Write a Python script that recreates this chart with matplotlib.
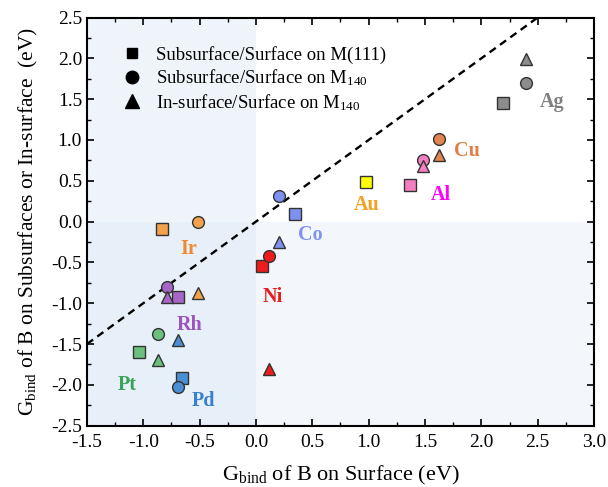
import matplotlib
matplotlib.use('Agg')
import matplotlib.pyplot as plt
from matplotlib.ticker import MultipleLocator

plt.rcParams['font.family'] = 'Liberation Serif'
plt.rcParams['mathtext.fontset'] = 'custom'
plt.rcParams['mathtext.rm'] = 'Liberation Serif'
plt.rcParams['mathtext.it'] = 'Liberation Serif:italic'

# metals and their values (surface, subsurface/in-surface) in eV
metals = ['Ag', 'Cu', 'Al', 'Au', 'Co', 'Ir', 'Ni', 'Rh', 'Pt', 'Pd']
colors = ['#8c8c8c', '#e0854f', '#f47fc0', '#ffff00', '#7f91ef',
          '#f2a24a', '#ee1c1c', '#a566c8', '#6cbf7c', '#4a8fd4']
label_colors = ['#808080', '#e07f4a', '#ff00ff', '#f2a21e', '#8192f0',
                '#f08a32', '#e81e1e', '#9c55c0', '#3aa35a', '#3a80cc']

# Subsurface/Surface on M(111)
sq_x = [2.19, None, 1.37, 0.98, 0.35, -0.83, 0.05, -0.69, -1.04, -0.66]
sq_y = [1.45, None, 0.45, 0.48, 0.09, -0.09, -0.55, -0.92, -1.6, -1.92]
# Subsurface/Surface on M140
ci_x = [2.4, 1.62, 1.48, None, 0.2, -0.51, 0.12, -0.79, -0.87, -0.69]
ci_y = [1.7, 1.01, 0.76, None, 0.31, 0.0, -0.42, -0.8, -1.38, -2.03]
# In-surface/Surface on M140
tr_x = [2.4, 1.62, 1.48, None, 0.2, -0.51, 0.12, -0.79, -0.87, -0.69]
tr_y = [1.99, 0.82, 0.68, None, -0.25, -0.88, -1.8, -0.92, -1.7, -1.45]

# label positions
lab_x = [2.63, 1.87, 1.64, 0.98, 0.48, -0.6, 0.15, -0.59, -1.14, -0.47]
lab_y = [1.47, 0.86, 0.33, 0.2, -0.17, -0.33, -0.92, -1.27, -2.0, -2.2]

fig = plt.figure(figsize=(6.08, 4.87), dpi=100)
ax = fig.add_axes([0.143, 0.126, 0.834, 0.838])

ax.axvspan(-1.5, 0, color='#d3e2f3', alpha=0.36, lw=0, zorder=0)
ax.axhspan(-2.5, 0, color='#d3e2f3', alpha=0.25, lw=0, zorder=0)

ax.plot([-1.5, 3.0], [-1.5, 3.0], ls=(0, (3.2, 2.2)), color='black', lw=1.7, zorder=1)

ms = 8.5
for i in range(len(metals)):
    if sq_x[i] is not None:
        ax.plot(sq_x[i], sq_y[i], 's', ms=ms - 0.5, mfc=colors[i], mec='#333333', mew=1.0, zorder=3)
for i in range(len(metals)):
    if ci_x[i] is not None:
        ax.plot(ci_x[i], ci_y[i], 'o', ms=ms, mfc=colors[i], mec='#333333', mew=1.0, zorder=4)
for i in range(len(metals)):
    if tr_x[i] is not None:
        ax.plot(tr_x[i], tr_y[i], '^', ms=ms + 0.5, mfc=colors[i], mec='#333333', mew=1.0, zorder=5)

for i in range(len(metals)):
    ax.text(lab_x[i], lab_y[i], metals[i], color=label_colors[i], fontsize=14.5,
            fontweight='bold', ha='center', va='center', zorder=6)

h1, = ax.plot([], [], 's', color='black', ms=7)
h2, = ax.plot([], [], 'o', color='black', ms=9)
h3, = ax.plot([], [], '^', color='black', ms=9.5)
ax.legend([h1, h2, h3],
          ['Subsurface/Surface on M(111)',
           r'Subsurface/Surface on M$_{140}$',
           r'In-surface/Surface on M$_{140}$'],
          loc='upper left', bbox_to_anchor=(0.044, 0.963), frameon=False,
          fontsize=13.5, handlelength=1.0, handletextpad=0.8, labelspacing=0.2,
          borderaxespad=0.3)

ax.set_xlim(-1.5, 3.0)
ax.set_ylim(-2.5, 2.5)
ax.xaxis.set_major_locator(MultipleLocator(0.5))
ax.xaxis.set_minor_locator(MultipleLocator(0.25))
ax.yaxis.set_major_locator(MultipleLocator(0.5))
ax.yaxis.set_minor_locator(MultipleLocator(0.25))
ax.xaxis.set_major_formatter(plt.FuncFormatter(lambda v, p: '%.1f' % v))
ax.yaxis.set_major_formatter(plt.FuncFormatter(lambda v, p: '%.1f' % v))
ax.tick_params(which='both', direction='in', top=True, right=True, labelsize=14)
ax.tick_params(axis='x', which='major', pad=6)
ax.tick_params(which='major', length=5, width=1.2)
ax.tick_params(which='minor', length=3, width=1.0)
for s in ax.spines.values():
    s.set_linewidth(1.5)

ax.set_xlabel(r'G$_{\rm bind}$ of B on Surface (eV)', fontsize=16, labelpad=9)
ax.set_ylabel(r'G$_{\rm bind}$ of B on Subsurfaces or In-surface  (eV)', fontsize=15.5, labelpad=8)

fig.savefig('out.png', dpi=100)
